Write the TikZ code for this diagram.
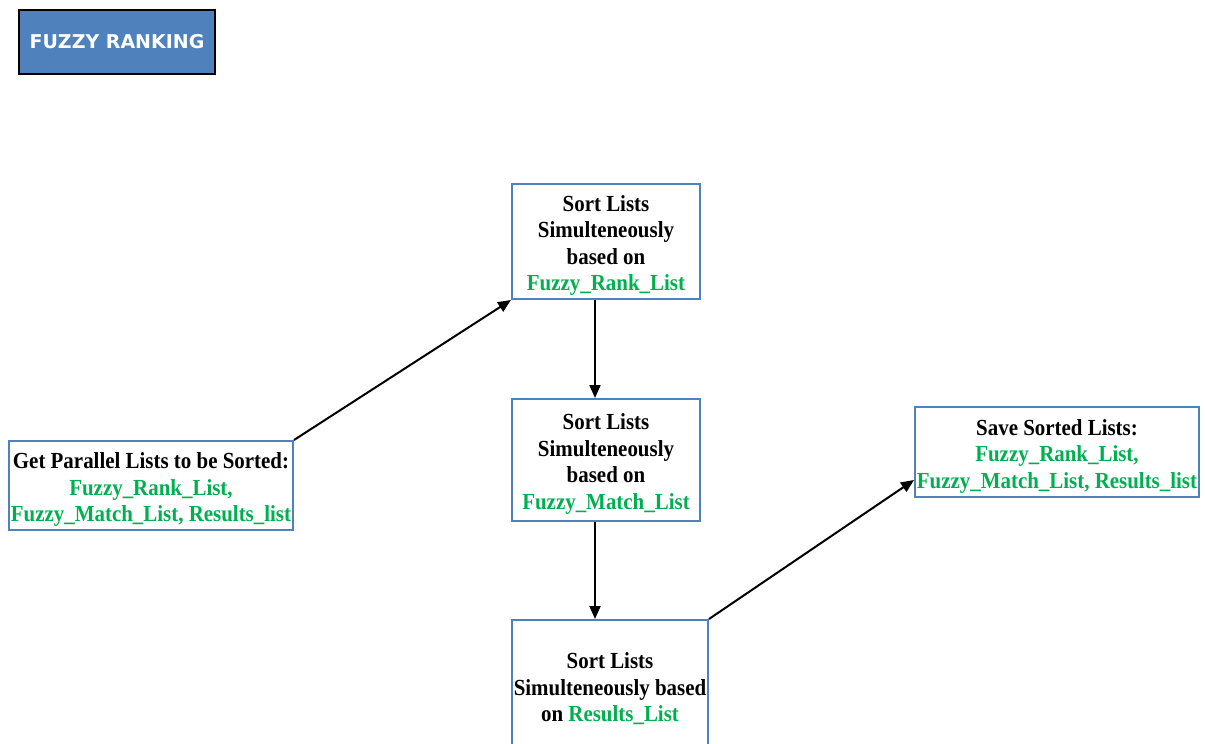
\documentclass[tikz,border=0pt]{standalone}
\usepackage{fontspec}
\setmainfont{Liberation Serif}
\newfontfamily\boxfont[FakeStretch=0.91]{Liberation Serif}
\newfontfamily\titlefont{DejaVu Sans}
\usetikzlibrary{arrows.meta}
\definecolor{boxblue}{HTML}{4F81BD}
\definecolor{txtgreen}{HTML}{00B050}
\tikzset{
  stepbox/.style={draw=boxblue, line width=2pt, fill=white, align=center, inner sep=0pt,
    font=\boxfont\fontsize{23}{26.5}\selectfont\bfseries, anchor=center},
  titlebox/.style={draw=black, line width=2.5pt, fill=boxblue, text=white, inner sep=0pt,
    font=\titlefont\fontsize{19}{22}\selectfont\bfseries},
  conn/.style={line width=2pt, -{Triangle[length=13pt,width=11pt]}},
}
\newcommand{\gr}[1]{\textcolor{txtgreen}{#1}}
\newcommand{\dn}{\rule{0pt}{24pt}}
\begin{document}
\begin{tikzpicture}[x=1pt,y=-1pt]
\useasboundingbox (0,0) rectangle (1205,744);
\node[titlebox, minimum width=196pt, minimum height=64pt] (title) at (117,42) {FUZZY RANKING};
\node[stepbox, minimum width=188pt, minimum height=115pt] (b1) at (606,241.5)
  {\dn Sort Lists\\Simulteneously\\based on\\\gr{Fuzzy\_Rank\_List}};
\node[stepbox, minimum width=188pt, minimum height=122pt] (b2) at (606,460)
  {\dn Sort Lists\\Simulteneously\\based on\\\gr{Fuzzy\_Match\_List}};
\node[stepbox, minimum width=196pt, minimum height=130pt] (b3) at (610,685)
  {\dn Sort Lists\\Simulteneously based\\on \gr{Results\_List}};
\node[stepbox, minimum width=284pt, minimum height=89pt] (left) at (151,485.5)
  {\dn Get Parallel Lists to be Sorted:\\\gr{Fuzzy\_Rank\_List,}\\\gr{Fuzzy\_Match\_List, Results\_list}};
\node[stepbox, minimum width=284pt, minimum height=90pt] (right) at (1057,452)
  {\dn Save Sorted Lists:\\\gr{Fuzzy\_Rank\_List,}\\\gr{Fuzzy\_Match\_List, Results\_list}};
\draw[conn] (left.north east) -- (b1.south west);
\draw[conn] (b1.south -| 595,0) -- (b2.north -| 595,0);
\draw[conn] (b2.south -| 595,0) -- (b3.north -| 595,0);
\coordinate (rin) at (right.west |- 0,480);
\draw[conn] (b3.north east) -- (rin);
\end{tikzpicture}
\end{document}
